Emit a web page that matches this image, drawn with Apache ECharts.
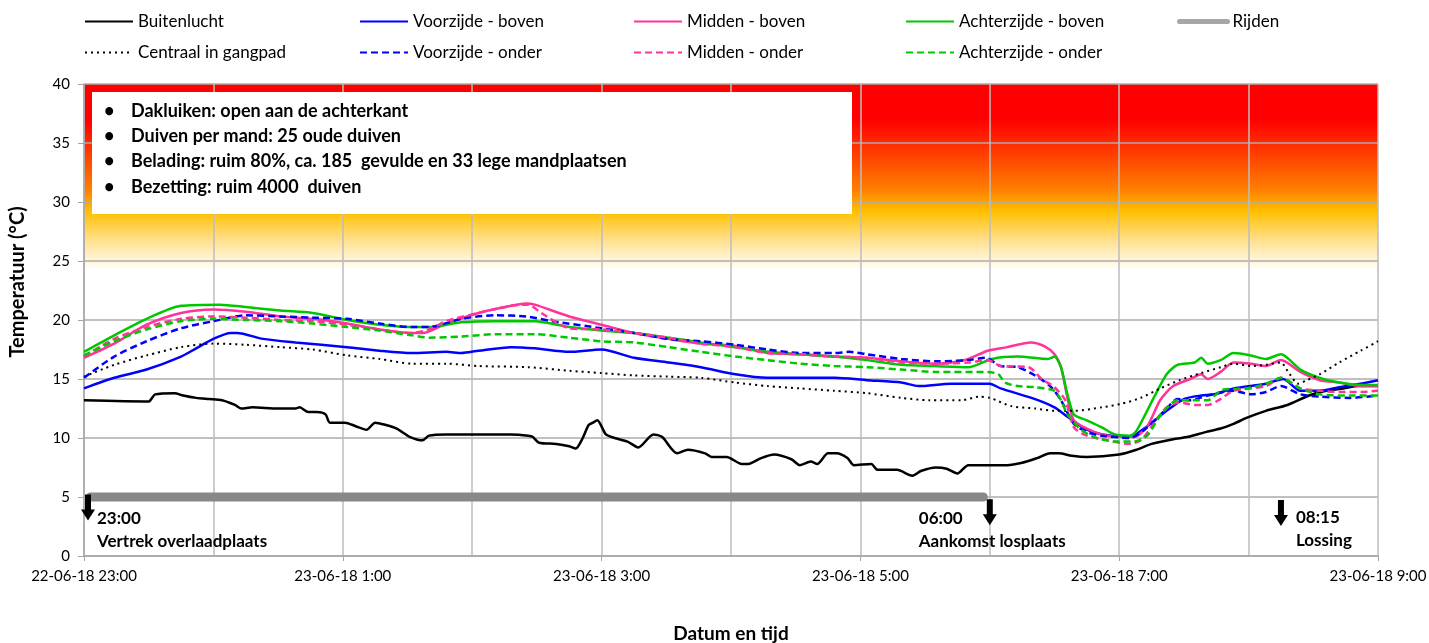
<!DOCTYPE html>
<html>
<head>
<meta charset="utf-8">
<script src="https://cdn.jsdelivr.net/npm/echarts@6/dist/echarts.min.js"></script>
<style>
html,body{margin:0;padding:0;background:#fff;}
#chart{width:1429px;height:643px;}
</style>
</head>
<body>
<div id="chart"></div>
<script>
// time in minutes after 22-06-18 23:00, temperature in °C
const xTickLabels = ['22-06-18 23:00','23-06-18 1:00','23-06-18 3:00','23-06-18 5:00','23-06-18 7:00','23-06-18 9:00'];

const buitenlucht = [[0,13.2],[30,13.1],[33,13.7],[42,13.8],[46,13.6],[52,13.4],[58,13.3],[64,13.2],[70,12.8],[73,12.5],[78,12.6],[90,12.5],[98,12.5],[100,12.6],[104,12.2],[108,12.2],[112,12.0],[114,11.3],[121,11.3],[126,11.0],[131,10.7],[135,11.3],[140,11.1],[145,10.8],[151,10.1],[157,9.8],[160,10.2],[168,10.3],[198,10.3],[206,10.2],[208,10.1],[211,9.6],[219,9.5],[225,9.3],[228,9.1],[231,9.9],[234,11.1],[236,11.3],[238,11.5],[242,10.3],[246,10.0],[252,9.7],[257,9.2],[264,10.3],[268,10.1],[275,8.7],[280,9.0],[288,8.7],[291,8.4],[298,8.4],[305,7.8],[308,7.8],[314,8.3],[320,8.6],[328,8.2],[332,7.7],[337,8.0],[340,7.8],[345,8.7],[349,8.7],[354,8.3],[357,7.7],[365,7.8],[368,7.3],[377,7.3],[384,6.8],[388,7.2],[395,7.5],[400,7.4],[405,7.0],[410,7.7],[419,7.7],[428,7.7],[435,7.9],[442,8.3],[448,8.7],[452,8.7],[458,8.5],[465,8.4],[480,8.6],[488,9.0],[495,9.5],[505,9.9],[512,10.1],[520,10.5],[527,10.8],[533,11.2],[539,11.7],[548,12.3],[558,12.8],[568,13.6],[576,14.0],[584,14.2],[591,14.4],[600,14.4]];

const centraal = [[0,15.2],[14,16.2],[29,17.0],[45,17.7],[60,18.0],[75,17.9],[91,17.7],[106,17.5],[122,17.0],[137,16.7],[152,16.3],[168,16.3],[183,16.1],[206,16.0],[225,15.7],[240,15.5],[255,15.3],[271,15.2],[286,15.1],[302,14.7],[317,14.4],[332,14.2],[348,14.0],[363,13.8],[379,13.4],[392,13.2],[407,13.2],[415,13.5],[420,13.4],[430,12.7],[441,12.5],[450,12.3],[459,12.3],[472,12.6],[481,12.9],[490,13.4],[499,14.2],[508,14.9],[518,15.5],[527,16.0],[533,16.3],[541,16.1],[548,16.2],[555,16.4],[558,15.7],[563,14.6],[567,14.9],[573,15.4],[582,16.4],[592,17.4],[600,18.2]];

const voorBoven = [[0,14.2],[14,15.1],[29,15.8],[45,16.9],[52,17.6],[60,18.4],[68,18.9],[71,18.9],[83,18.4],[98,18.1],[122,17.7],[137,17.4],[152,17.2],[168,17.3],[175,17.2],[183,17.4],[198,17.7],[209,17.6],[225,17.3],[240,17.5],[255,16.8],[271,16.4],[286,16.0],[302,15.4],[317,15.1],[348,15.1],[363,14.9],[379,14.7],[387,14.4],[402,14.6],[420,14.6],[425,14.2],[441,13.3],[450,12.6],[456,11.8],[464,10.8],[472,10.3],[485,10.1],[493,11.0],[502,12.3],[510,13.3],[518,13.6],[524,13.7],[533,14.2],[548,14.6],[556,15.0],[564,14.0],[573,14.0],[582,14.3],[592,14.6],[600,14.9]];

const voorOnder = [[0,15.1],[14,16.9],[29,18.2],[45,19.3],[60,19.9],[75,20.4],[91,20.3],[106,20.2],[122,20.1],[137,19.7],[152,19.4],[160,19.4],[175,20.1],[191,20.4],[205,20.3],[217,19.9],[240,19.3],[255,18.9],[271,18.4],[286,18.2],[302,17.9],[317,17.5],[332,17.2],[348,17.2],[355,17.3],[363,17.1],[379,16.7],[395,16.5],[410,16.6],[418,16.8],[425,16.1],[433,16.0],[441,15.3],[448,14.4],[453,13.2],[459,11.2],[465,10.5],[472,10.2],[485,10.0],[493,10.9],[502,12.5],[507,13.3],[513,13.2],[521,13.6],[533,14.0],[541,13.7],[548,13.9],[555,14.4],[564,13.7],[573,13.5],[587,13.4],[600,13.6]];

const middenBoven = [[0,16.8],[14,18.0],[29,19.6],[45,20.6],[60,20.9],[75,20.7],[91,20.3],[106,20.1],[122,19.7],[137,19.2],[152,18.9],[157,18.9],[168,19.7],[183,20.6],[198,21.2],[205,21.4],[209,21.3],[225,20.3],[240,19.6],[255,18.9],[271,18.4],[286,18.0],[302,17.8],[317,17.2],[332,17.1],[348,16.9],[363,16.8],[379,16.5],[395,16.3],[402,16.4],[410,16.7],[419,17.4],[428,17.7],[439,18.1],[445,17.8],[450,17.1],[453,16.0],[456,13.4],[459,11.5],[465,10.8],[472,10.3],[479,10.1],[487,10.1],[493,11.0],[499,13.2],[505,14.4],[513,15.0],[518,15.4],[521,15.0],[527,15.6],[533,16.4],[541,16.3],[548,16.1],[555,16.6],[564,15.6],[573,14.9],[582,14.7],[592,14.4],[600,14.4]];

const middenOnder = [[0,16.9],[14,18.4],[29,19.4],[45,20.1],[60,20.3],[75,20.2],[91,20.0],[106,19.9],[122,19.6],[137,19.2],[152,18.9],[160,19.2],[168,19.9],[183,20.6],[198,21.2],[206,21.3],[212,20.6],[225,19.3],[240,19.2],[255,18.9],[271,18.5],[286,18.0],[302,17.7],[317,17.2],[332,17.1],[348,16.9],[363,16.8],[379,16.4],[395,16.3],[410,16.4],[419,16.6],[425,16.1],[438,16.0],[444,15.0],[450,14.3],[455,13.2],[459,10.9],[465,10.2],[475,9.8],[484,9.5],[490,9.8],[496,11.2],[502,12.6],[508,13.0],[515,12.8],[521,12.8],[527,13.3],[533,14.0],[548,14.4],[555,15.1],[564,14.2],[573,14.0],[582,13.9],[592,13.9],[600,14.0]];

const achterBoven = [[0,17.3],[14,18.7],[29,20.1],[45,21.2],[63,21.3],[75,21.1],[91,20.8],[106,20.6],[122,20.0],[137,19.6],[152,19.4],[160,19.4],[175,19.8],[191,19.9],[209,19.9],[225,19.4],[240,19.1],[255,18.9],[271,18.5],[286,18.1],[302,17.7],[317,17.3],[332,17.1],[348,16.9],[363,16.6],[379,16.2],[394,16.1],[410,16.0],[421,16.7],[433,16.9],[447,16.7],[450,16.9],[453,16.0],[456,13.7],[459,12.0],[465,11.5],[472,10.9],[478,10.3],[485,10.2],[488,10.6],[496,13.4],[502,15.4],[507,16.2],[515,16.4],[518,16.8],[521,16.3],[527,16.6],[533,17.2],[541,17.0],[548,16.7],[555,17.1],[564,15.8],[573,15.1],[582,14.7],[592,14.5],[600,14.5]];

const achterOnder = [[0,17.0],[14,18.2],[29,19.2],[45,19.9],[60,20.1],[75,20.0],[91,19.9],[106,19.7],[122,19.4],[137,19.1],[152,18.7],[160,18.5],[175,18.6],[191,18.8],[209,18.8],[225,18.5],[240,18.2],[255,18.1],[271,17.7],[286,17.3],[302,16.9],[317,16.6],[332,16.3],[348,16.1],[363,16.0],[379,15.8],[395,15.6],[419,15.6],[424,15.4],[427,14.7],[433,14.4],[441,14.3],[450,14.0],[453,13.2],[456,12.0],[461,10.9],[468,10.1],[478,9.7],[487,9.7],[493,10.2],[499,11.9],[507,13.2],[513,13.2],[521,13.2],[528,14.1],[539,14.2],[548,14.6],[555,15.1],[564,14.2],[573,13.7],[587,13.6],[600,13.6]];

const rijden = [[3,5],[417,5]];

const eventTimes = [0, 420, 555];
const eventLevels = [4.1, 3.7, 3.65];
const eventLabels = ['23:00\nVertrek overlaadplaats', '06:00\nAankomst losplaats', '08:15\nLossing'];

const infoLines = [
  'Dakluiken: open aan de achterkant',
  'Duiven per mand: 25 oude duiven',
  'Belading: ruim 80%, ca. 185  gevulde en 33 lege mandplaatsen',
  'Bezetting: ruim 4000  duiven'
];

// ---- styling (not data) ----
const FONT = 'Lato';
const C_BLUE = '#0000FF', C_PINK = '#FF3399', C_GREEN = '#00C800';
const eventLabelPos = [[16, 12], [-64, 8], [22, 6]];
const eventSymbolOffset = [[4, 0], [0, 0], [0, 0]];

function lineSeries(name, data, color, type, width) {
  return {
    name: name, type: 'line', data: data, showSymbol: false, symbol: 'none',
    smooth: 0.25, animation: false,
    lineStyle: {color: color, width: width || 2.5, type: type || 'solid'},
    itemStyle: {color: color}
  };
}

const chart = echarts.init(document.getElementById('chart'), null, {renderer: 'canvas'});

const legendCols = [
  ['Buitenlucht', 'Centraal in gangpad'],
  ['Voorzijde - boven', 'Voorzijde - onder'],
  ['Midden - boven', 'Midden - onder'],
  ['Achterzijde - boven', 'Achterzijde - onder'],
  ['Rijden']
];
const legendLefts = [84, 359, 633, 905, 1177];

const legends = legendCols.map((col, i) => ({
  orient: 'vertical', left: legendLefts[i], top: 13, padding: 0,
  itemWidth: 48, itemHeight: 14, itemGap: 14,
  selectedMode: false,
  itemStyle: {opacity: 0},
  textStyle: {fontFamily: FONT, fontSize: 17, color: '#000'},
  data: col.map(n => n === 'Rijden'
    ? {name: n, lineStyle: {color: '#A6A6A6', width: 5, cap: 'round'}, itemStyle: {opacity: 0}}
    : {name: n, itemStyle: {opacity: 0}})
}));

const graphicEls = [{
  type: 'rect', z: 100, shape: {x: 92, y: 92, width: 760, height: 122},
  style: {fill: '#FFFFFF'}
}];
infoLines.forEach((t, i) => {
  graphicEls.push({type: 'text', z: 101, x: 104, y: 111 + i * 25.3,
    style: {text: '\u2022', font: 'bold 18px ' + FONT, fill: '#000', verticalAlign: 'middle'}});
  graphicEls.push({type: 'text', z: 101, x: 131, y: 111 + i * 25.3,
    style: {text: t, font: 'bold 18px ' + FONT, fill: '#000', verticalAlign: 'middle'}});
});

const option = {
  animation: false,
  textStyle: {fontFamily: FONT},
  legend: legends,
  graphic: graphicEls,
  grid: {
    left: 84, right: 51, top: 84, bottom: 87, show: true, borderWidth: 0,
    outerBoundsMode: 'none', containLabel: false,
    backgroundColor: {
      type: 'linear', x: 0, y: 0, x2: 0, y2: 1,
      colorStops: [
        {offset: 0, color: '#FF0000'},
        {offset: 0.075, color: '#FF0000'},
        {offset: 0.125, color: '#FF2A00'},
        {offset: 0.225, color: '#FF8000'},
        {offset: 0.27, color: '#FFC000'},
        {offset: 0.33, color: '#FFE08C'},
        {offset: 0.395, color: '#FFFFFF'},
        {offset: 1, color: '#FFFFFF'}
      ]
    }
  },
  xAxis: {
    type: 'value', min: 0, max: 600, interval: 120,
    name: 'Datum en tijd', nameLocation: 'middle', nameGap: 68,
    nameTextStyle: {fontFamily: FONT, fontSize: 19, fontWeight: 'bold', color: '#000'},
    axisLine: {show: true, lineStyle: {color: '#A6A6A6', width: 1.5}},
    axisTick: {show: true, length: 5, lineStyle: {color: '#A6A6A6'}},
    axisLabel: {
      fontFamily: FONT, fontSize: 15, color: '#000', margin: 13,
      formatter: v => xTickLabels[Math.round(v / 120)]
    },
    splitLine: {show: true, lineStyle: {color: '#BDBDBD', width: 1.5}},
    minorTick: {show: false, splitNumber: 2},
    minorSplitLine: {show: true, lineStyle: {color: '#BDBDBD', width: 1.5}}
  },
  yAxis: {
    type: 'value', min: 0, max: 40, interval: 5,
    name: 'Temperatuur (°C)', nameLocation: 'middle', nameGap: 56, nameRotate: 90,
    nameTextStyle: {fontFamily: FONT, fontSize: 20, fontWeight: 'bold', color: '#000', padding: [0, 0, 0, 76]},
    axisLine: {show: true, lineStyle: {color: '#A6A6A6', width: 1.5}},
    axisTick: {show: true, length: 6, lineStyle: {color: '#A6A6A6'}},
    axisLabel: {fontFamily: FONT, fontSize: 15, color: '#000', margin: 14},
    splitLine: {show: true, lineStyle: {color: '#ABABAB', width: 1.5}}
  },
  series: [
    lineSeries('Buitenlucht', buitenlucht, '#000000', 'solid', 2.5),
    lineSeries('Voorzijde - boven', voorBoven, C_BLUE, 'solid', 2.5),
    lineSeries('Midden - boven', middenBoven, C_PINK, 'solid', 2.5),
    lineSeries('Achterzijde - boven', achterBoven, C_GREEN, 'solid', 2.5),
    {
      name: 'Rijden', type: 'line', data: rijden, showSymbol: false, symbol: 'none',
      lineStyle: {color: '#888888', width: 9, cap: 'round'}, itemStyle: {color: '#A6A6A6'}, z: 1
    },
    lineSeries('Centraal in gangpad', centraal, '#000000', [2, 4], 2),
    lineSeries('Voorzijde - onder', voorOnder, C_BLUE, [7, 4], 2.5),
    lineSeries('Midden - onder', middenOnder, C_PINK, [7, 4], 2.5),
    lineSeries('Achterzijde - onder', achterOnder, C_GREEN, [7, 4], 2.5),
    {
      name: 'Gebeurtenissen', type: 'scatter', z: 5,
      symbol: 'path://M4,0 L10,0 L10,15 L14,15 L7,26 L0,15 L4,15 Z',
      symbolSize: [14, 26],
      itemStyle: {color: '#000', opacity: 1},
      data: eventTimes.map((t, i) => ({
        value: [t, eventLevels[i]],
        symbolOffset: eventSymbolOffset[i],
        label: {
          show: true, position: eventLabelPos[i], align: 'left', verticalAlign: 'top',
          formatter: eventLabels[i], fontFamily: FONT, fontSize: 17, fontWeight: 'bold',
          lineHeight: 23, color: '#000'
        }
      }))
    }
  ]
};
chart.setOption(option);
</script>
</body>
</html>
